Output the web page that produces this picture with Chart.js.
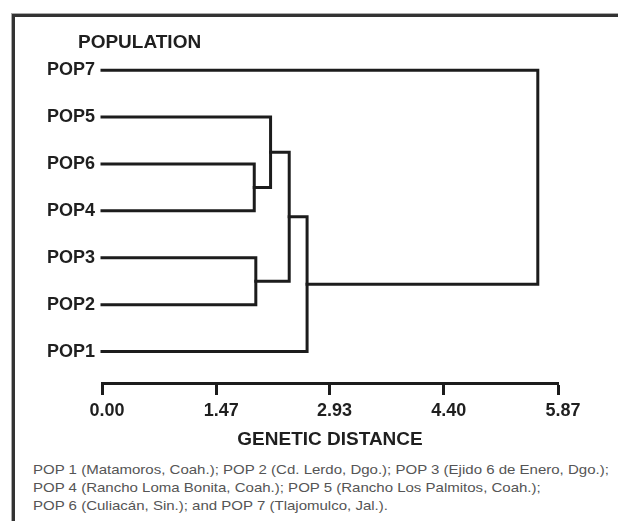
<!DOCTYPE html>
<html>
<head>
<meta charset="utf-8">
<script src="https://cdn.jsdelivr.net/npm/chart.js@4.4.1/dist/chart.umd.min.js"></script>
<style>
    html, body { margin: 0; padding: 0; background: #fff; width: 618px; height: 521px; overflow: hidden; }
    #frame {
        position: absolute; left: 12px; top: 14px; width: 700px; height: 600px;
        border-left: 3px solid #333; border-top: 3px solid #333;
        box-shadow: -1px -1px 0 #aaa;
    }
    #wrap { position: absolute; left: 0; top: 0; width: 618px; height: 456px; }
    #note {
        position: absolute; left: 33px; top: 461px;
        font-family: "Liberation Sans", Arial, sans-serif; font-size: 13px;
        line-height: 18px; color: #555; white-space: nowrap;
        transform: scaleX(1.155); transform-origin: left top;
    }
</style>
</head>
<body>
<div id="frame"></div>
<div id="wrap"><canvas id="dendro" width="618" height="456"></canvas></div>
<div id="note">
    POP 1 (Matamoros, Coah.); POP 2 (Cd. Lerdo, Dgo.); POP 3 (Ejido 6 de Enero, Dgo.);<br>
    POP 4 (Rancho Loma Bonita, Coah.); POP 5 (Rancho Los Palmitos, Coah.);<br>
    POP 6 (Culiacán, Sin.); and POP 7 (Tlajomulco, Jal.).
</div>
<script>
// leaves from top to bottom
const leafOrder = ['POP7', 'POP5', 'POP6', 'POP4', 'POP3', 'POP2', 'POP1'];
// merge i creates node 'N' + (i + 1)
const mergeA = ['POP6', 'POP3', 'POP5', 'N3', 'N4', 'POP7'];
const mergeB = ['POP4', 'POP2', 'N1', 'N2', 'POP1', 'N5'];
const mergeDistance = [1.96, 1.98, 2.17, 2.41, 2.64, 5.61];
const distanceTicks = [0, 1.47, 2.93, 4.40, 5.87];

const LINE = '#1c1c1c';
const TEXT = '#1f1f1f';
const FONT = '"Liberation Sans", Arial, sans-serif';

// leaf / node positions: x = distance, y = row
const nodes = {};
leafOrder.forEach((name, i) => { nodes[name] = { x: 0, y: leafOrder.length - i }; });

const datasets = mergeDistance.map((d, i) => {
    const a = nodes[mergeA[i]];
    const b = nodes[mergeB[i]];
    nodes['N' + (i + 1)] = { x: d, y: (a.y + b.y) / 2 };
    return {
        data: [
            { x: a.x, y: a.y },
            { x: d, y: a.y },
            { x: d, y: b.y },
            { x: b.x, y: b.y }
        ],
        showLine: true,
        borderColor: LINE,
        borderWidth: 3,
        borderJoinStyle: 'miter',
        borderCapStyle: 'square',
        pointRadius: 0,
        clip: false
    };
});

const headerLabel = {
    id: 'headerLabel',
    afterDraw(chart) {
        const ctx = chart.ctx;
        ctx.save();
        ctx.font = 'bold 19px ' + FONT;
        ctx.fillStyle = TEXT;
        ctx.textAlign = 'left';
        ctx.textBaseline = 'middle';
        ctx.fillText('POPULATION', chart.chartArea.left - 24, chart.chartArea.top + 1);
        ctx.restore();
    }
};

new Chart(document.getElementById('dendro'), {
    type: 'scatter',
    data: { datasets },
    plugins: [headerLabel],
    options: {
        responsive: false,
        animation: false,
        layout: { padding: { top: 42, right: 60, bottom: 0, left: 0 } },
        plugins: { legend: { display: false }, tooltip: { enabled: false } },
        scales: {
            x: {
                type: 'linear',
                min: 0,
                max: 5.87,
                afterBuildTicks: scale => { scale.ticks = distanceTicks.map(v => ({ value: v })); },
                afterFit: scale => { scale.height = 73; },
                ticks: {
                    callback: v => v.toFixed(2),
                    font: { family: FONT, size: 18, weight: 'bold' },
                    color: TEXT,
                    padding: 5,
                    labelOffset: 5,
                    maxRotation: 0
                },
                grid: { display: true, drawOnChartArea: false, drawTicks: true, tickLength: 12, tickWidth: 3, tickColor: LINE },
                border: { display: true, width: 3, color: LINE },
                title: {
                    display: true,
                    text: 'GENETIC DISTANCE',
                    font: { family: FONT, size: 19, weight: 'bold' },
                    color: TEXT,
                    padding: { top: 0, bottom: 5 }
                }
            },
            y: {
                type: 'linear',
                min: 0.33,
                max: 7.6,
                afterBuildTicks: scale => { scale.ticks = leafOrder.map((n, i) => ({ value: leafOrder.length - i })); },
                afterFit: scale => { scale.width = 102; },
                ticks: {
                    callback: v => leafOrder[leafOrder.length - v],
                    font: { family: FONT, size: 18, weight: 'bold' },
                    color: TEXT,
                    padding: 7
                },
                grid: { display: false, drawTicks: false },
                border: { display: false }
            }
        }
    }
});
</script>
</body>
</html>
